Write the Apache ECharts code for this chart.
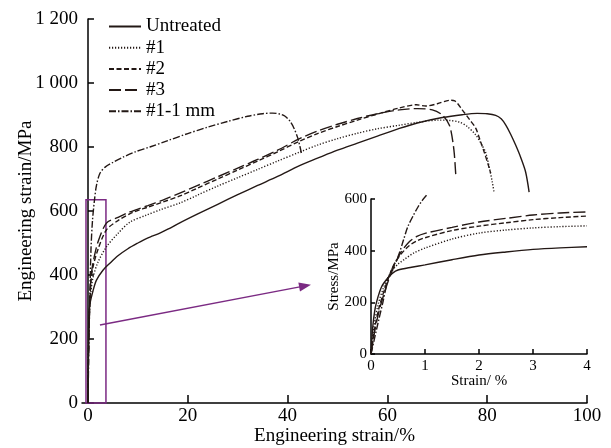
<!DOCTYPE html>
<html>
<head>
<meta charset="utf-8">
<script src="https://cdn.jsdelivr.net/npm/echarts@6/dist/echarts.min.js"></script>
<style>
html, body { margin: 0; padding: 0; background: #fff; }
#chart { width: 611px; height: 448px; }
</style>
</head>
<body>
<div id="chart"></div>
<script>
// series names
var names = ['Untreated', '#1', '#2', '#3', '#1-1 mm'];

// main chart: engineering strain (%) vs stress (MPa)
var untreated = [[0,0],[0.1,200],[0.3,300],[1,350],[1.7,384],[3,415],[4.4,437],[6,460],[8,482],[10,500],[11.7,514],[13,522],[14.4,531],[16,543],[18.4,563],[22,591],[26,621],[30,651],[34,680],[38,708],[42.4,742],[46,765],[50,790],[54,812],[58,834],[62.4,858],[66,875],[71,892],[75,901],[78,905],[80,904],[81.7,899],[82.8,888],[83.7,869],[84.7,840],[85.7,806],[86.7,768],[87.7,722],[88.4,659]];
var s1 = [[0,0],[0.1,170],[0.3,290],[0.6,350],[1,392],[2,440],[3.7,488],[6,530],[8.4,565],[11.7,587],[14.5,604],[18.4,625],[22,650],[26,678],[30,704],[34,730],[38,756],[42.4,784],[46,806],[50,826],[54,843],[58,857],[62.4,868],[66,877],[70.4,884],[72.5,883],[74.4,878],[76,864],[77.7,838],[78.8,810],[79.7,782],[80.5,730],[81,692],[81.4,656]];
var s2 = [[0,0],[0.1,150],[0.3,290],[0.6,380],[1,425],[2,480],[3.7,541],[6,570],[9,596],[12,612],[15,628],[18.4,647],[22,672],[26,700],[30,728],[34,756],[38,785],[42.4,818],[46,842],[50,864],[54,884],[58,903],[62.4,922],[65.8,932],[67.7,928],[70,935],[72.5,946],[73.5,944],[75,916],[76.5,885],[77.7,859],[78.6,820],[79.4,784],[80.2,745],[80.7,718]];
var s3 = [[0,0],[0.1,140],[0.3,280],[0.6,390],[1,437],[2,503],[3.7,562],[6,580],[8.4,597],[12,617],[15,634],[18.4,656],[22,680],[26,707],[30,734],[34,761],[38,790],[42.4,826],[46,850],[50,871],[54,889],[58,904],[62.4,916],[66,920],[69,916],[71,900],[72.4,869],[73,828],[73.4,780],[73.7,713]];
var s11 = [[0,0],[0.2,200],[0.4,350],[0.6,480],[0.9,570],[1.3,634],[1.7,680],[2.4,718],[3.5,738],[5,752],[7,768],[9.5,785],[12.4,800],[16,820],[20,842],[24,862],[28,880],[32,896],[35,904],[37,906],[38.5,903],[39.5,896],[40.5,880],[41.3,858],[42,830],[42.5,800],[42.8,778]];

// inset: strain (%) vs stress (MPa), first 4 %
var inUntreated = [[0,0],[0.02,70],[0.04,120],[0.08,180],[0.13,221],[0.2,262],[0.31,294],[0.4,313],[0.5,325],[0.75,336],[1,345],[1.5,365],[2,383],[2.5,395],[3,405],[3.5,411],[4,415]];
var in1 = [[0,0],[0.05,100],[0.13,190],[0.22,250],[0.3,290],[0.4,325],[0.5,348],[0.63,368],[0.8,392],[1,410],[1.5,445],[2,468],[2.5,480],[3,488],[3.5,493],[4,496]];
var in2 = [[0,0],[0.06,90],[0.15,180],[0.25,250],[0.35,310],[0.45,355],[0.55,385],[0.7,418],[0.85,438],[1,450],[1.5,478],[2,495],[2.5,508],[3,520],[3.5,528],[4,534]];
var in3 = [[0,0],[0.07,90],[0.16,175],[0.26,245],[0.35,300],[0.45,350],[0.55,392],[0.7,433],[0.85,455],[1,467],[1.5,490],[2,511],[2.5,525],[3,538],[3.5,546],[4,550]];
var in11 = [[0,0],[0.13,120],[0.22,200],[0.31,286],[0.4,335],[0.5,376],[0.6,440],[0.68,492],[0.78,535],[0.87,569],[0.95,595],[1.03,615]];

var mainTicks = [0, 20, 40, 60, 80, 100];
// zoom box and arrow, in main-chart data units
var zoomBox = [[-0.4, 0], [3.6, 635]];
var arrowLine = [[2.4, 244], [43.5, 366]];

var ink = '#231815';
var purple = '#7b2a83';
var font = 'Liberation Serif';
var dashes = ['solid', [1.2, 1.8], [5, 2.5], [12, 4], [7, 2, 1.5, 2]];

function thousands(v) {
    return v >= 1000 ? String(v).replace(/(\d)(\d{3})$/, '$1 $2') : String(v);
}

function lineSeries(name, data, idx, style, extra) {
    var s = {
        name: name,
        type: 'line',
        xAxisIndex: idx,
        yAxisIndex: idx,
        data: data,
        symbol: 'none',
        smooth: 0.3,
        lineStyle: { color: ink, width: 1.4, type: style },
        itemStyle: { color: ink },
        animation: false
    };
    if (extra) for (var k in extra) s[k] = extra[k];
    return s;
}

var myChart = echarts.init(document.getElementById('chart'));

var mainData = [untreated, s1, s2, s3, s11];
var insetData = [inUntreated, in1, in2, in3, in11];
var series = [];
for (var i = 0; i < names.length; i++) {
    series.push(lineSeries(names[i], mainData[i], 0, dashes[i]));
}
for (var j = 0; j < names.length; j++) {
    series.push(lineSeries(names[j], insetData[j], 1, dashes[j], j === 4 ? { clip: false } : null));
}
series[0].markArea = {
    silent: true,
    itemStyle: { color: 'rgba(0,0,0,0)', borderColor: purple, borderWidth: 1.5 },
    data: [[{ coord: zoomBox[0] }, { coord: zoomBox[1] }]]
};
series[0].markLine = {
    silent: true,
    symbol: ['none', 'triangle'],
    symbolSize: [9, 12],
    label: { show: false },
    lineStyle: { color: purple, width: 1.5, type: 'solid' },
    data: [[{ coord: arrowLine[0] }, { coord: arrowLine[1] }]]
};

var option = {
    backgroundColor: '#fff',
    textStyle: { fontFamily: font, color: '#000' },
    legend: {
        data: names,
        orient: 'vertical',
        left: 103,
        top: 12,
        itemWidth: 32,
        itemHeight: 14,
        itemGap: 2.2,
        itemStyle: { opacity: 0 },
        textStyle: { fontFamily: font, fontSize: 19, color: '#000', lineHeight: 18 },
        selectedMode: false
    },
    grid: [
        { left: 82, right: 24, top: 19, bottom: 45, outerBoundsMode: 'none' },
        { left: 371, width: 216, top: 199, height: 155, outerBoundsMode: 'none' }
    ],
    xAxis: [
        {
            gridIndex: 0, type: 'value', min: -1.2, max: 100,
            name: 'Engineering strain/%', nameLocation: 'middle', nameGap: 24,
            nameMoveOverlap: false,
            nameTextStyle: { fontFamily: font, fontSize: 19, color: '#000' },
            axisLine: { lineStyle: { color: '#000', width: 1.5 } },
            axisTick: { inside: true, length: 8, customValues: mainTicks, lineStyle: { color: '#000', width: 1.5 } },
            axisLabel: { customValues: mainTicks, margin: 4, fontFamily: font, fontSize: 19, color: '#000' },
            splitLine: { show: false }
        },
        {
            gridIndex: 1, type: 'value', min: 0, max: 4, interval: 1,
            name: 'Strain/ %', nameLocation: 'middle', nameGap: 20,
            nameMoveOverlap: false,
            nameTextStyle: { fontFamily: font, fontSize: 15, color: '#000' },
            axisLine: { lineStyle: { color: '#000', width: 1.5 } },
            axisTick: { inside: true, length: 5, lineStyle: { color: '#000', width: 1.5 } },
            axisLabel: { margin: 5, fontFamily: font, fontSize: 15, color: '#000' },
            splitLine: { show: false }
        }
    ],
    yAxis: [
        {
            gridIndex: 0, type: 'value', min: 0, max: 1200, interval: 200,
            name: 'Engineering strain/MPa', nameLocation: 'middle', nameGap: 46,
            nameMoveOverlap: false,
            nameTextStyle: { fontFamily: font, fontSize: 19, color: '#000' },
            axisLine: { show: true, lineStyle: { color: '#000', width: 1.5 } },
            axisTick: { show: true, inside: true, length: 6, lineStyle: { color: '#000', width: 1.5 } },
            axisLabel: { margin: 4, formatter: thousands, fontFamily: font, fontSize: 19, color: '#000' },
            splitLine: { show: false }
        },
        {
            gridIndex: 1, type: 'value', min: 0, max: 600, interval: 200,
            name: 'Stress/MPa', nameLocation: 'middle', nameGap: 29,
            nameMoveOverlap: false,
            nameTextStyle: { fontFamily: font, fontSize: 15, color: '#000' },
            axisLine: { show: true, lineStyle: { color: '#000', width: 1.5 } },
            axisTick: { show: true, inside: true, length: 4, lineStyle: { color: '#000', width: 1.5 } },
            axisLabel: { margin: 4, fontFamily: font, fontSize: 15, color: '#000' },
            splitLine: { show: false }
        }
    ],
    series: series
};

myChart.setOption(option);
</script>
</body>
</html>
